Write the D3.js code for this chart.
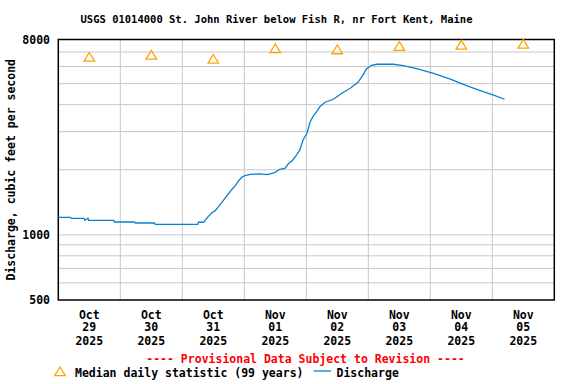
<!DOCTYPE html>
<html><head><meta charset="utf-8">
<script src="https://cdn.jsdelivr.net/npm/d3@7"></script>
<style>
body{margin:0;background:#fff;}
svg{display:block;}
text{font-family:"DejaVu Sans Mono",monospace;font-weight:bold;}
</style></head>
<body><svg id="c" width="576" height="384"></svg>
<script>
const title = "USGS 01014000 St. John River below Fish R, nr Fort Kent, Maine";
const yLabel = "Discharge, cubic feet per second";
const yTickLabels = [500, 1000, 8000];
const yGridValues = [600,700,800,900,1000,2000,3000,4000,5000,6000,7000];
const dayTicks = ["2025-10-29","2025-10-30","2025-10-31","2025-11-01","2025-11-02","2025-11-03","2025-11-04","2025-11-05"];
const medianValues = [6640, 6790, 6500, 7270, 7190, 7450, 7550, 7630];
const dischargeTimes = [
"2025-10-29T00:00","2025-10-29T04:45","2025-10-29T05:00","2025-10-29T10:00","2025-10-29T10:15","2025-10-29T11:30","2025-10-29T11:45",
"2025-10-29T21:30","2025-10-29T21:45","2025-10-30T05:30","2025-10-30T05:45","2025-10-30T13:15","2025-10-30T13:30",
"2025-10-31T06:00","2025-10-31T06:15","2025-10-31T08:15","2025-10-31T08:45","2025-10-31T10:00","2025-10-31T11:30",
"2025-10-31T12:45","2025-10-31T14:00","2025-10-31T15:15","2025-10-31T16:30","2025-10-31T17:45","2025-10-31T19:00",
"2025-10-31T20:30","2025-10-31T21:45","2025-10-31T23:00","2025-11-01T00:15","2025-11-01T02:15","2025-11-01T06:00",
"2025-11-01T08:45","2025-11-01T10:00","2025-11-01T11:45","2025-11-01T13:45","2025-11-01T15:45","2025-11-01T17:00",
"2025-11-01T18:45","2025-11-01T20:15","2025-11-01T21:30","2025-11-01T22:45","2025-11-02T00:15","2025-11-02T01:30",
"2025-11-02T02:45","2025-11-02T04:00","2025-11-02T05:15","2025-11-02T07:15","2025-11-02T10:30","2025-11-02T13:45",
"2025-11-02T17:00","2025-11-02T20:00","2025-11-02T22:00","2025-11-02T23:15","2025-11-03T01:15","2025-11-03T03:15",
"2025-11-03T09:45","2025-11-03T13:30","2025-11-03T18:45","2025-11-04T01:15","2025-11-04T07:30","2025-11-04T14:00",
"2025-11-04T20:30","2025-11-05T00:15","2025-11-05T04:45"];
const dischargeValues = [
1206,1206,1193,1193,1168,1193,1168,
1168,1147,1147,1135,1135,1119,
1119,1144,1144,1163,1214,1266,
1294,1350,1409,1476,1541,1613,
1688,1775,1846,1878,1906,1912,
1898,1912,1939,2010,2031,2127,
2219,2341,2469,2746,2949,3336,
3545,3711,3914,4102,4236,4515,
4761,5075,5487,5847,6081,6146,
6146,6056,5865,5585,5256,4895,
4592,4434,4236];

const parseDay = d3.timeParse("%Y-%m-%d");
const parseTime = d3.timeParse("%Y-%m-%dT%H:%M");
const svg = d3.select("#c");
const L = 58.3, R = 554.3, T = 39.5, B = 300;
const x = d3.scaleTime().domain([parseDay("2025-10-29"), parseDay("2025-11-06")]).range([L, R]);
const y = d3.scaleLog().domain([500, 8000]).range([B, T]);

// grid
const days = dayTicks.map(parseDay);
svg.append("g").selectAll("line").data(days.slice(1)).join("line")
  .attr("x1", d => x(d)).attr("x2", d => x(d)).attr("y1", T).attr("y2", B)
  .attr("stroke", "#c8c8c8").attr("stroke-width", 1);
svg.append("g").selectAll("line").data(yGridValues).join("line")
  .attr("x1", L).attr("x2", R).attr("y1", d => y(d)).attr("y2", d => y(d))
  .attr("stroke", "#c8c8c8").attr("stroke-width", 1);

// frame
svg.append("rect").attr("x", L).attr("y", T).attr("width", R - L).attr("height", B - T)
  .attr("fill", "none").attr("stroke", "#000").attr("stroke-width", 1.5);

// y tick labels
svg.append("g").selectAll("text").data(yTickLabels).join("text")
  .attr("x", 50).attr("y", d => y(d) + 4).attr("text-anchor", "end")
  .attr("font-size", "11.5px").attr("fill", "#000").text(d => d);

// y label
svg.append("text").attr("transform", `translate(15,${(T + B) / 2}) rotate(-90)`)
  .attr("text-anchor", "middle").attr("font-size", "11.5px").attr("fill", "#000").text(yLabel);

// x tick labels
const fmtM = d3.timeFormat("%b"), fmtD = d3.timeFormat("%d"), fmtY = d3.timeFormat("%Y");
const noon = d => d3.timeHour.offset(d, 12);
const xl = svg.append("g").selectAll("text").data(days).join("text")
  .attr("text-anchor", "middle").attr("font-size", "11.5px").attr("fill", "#000");
xl.append("tspan").attr("x", d => x(noon(d))).attr("y", 318.5).text(fmtM);
xl.append("tspan").attr("x", d => x(noon(d))).attr("y", 331).text(fmtD);
xl.append("tspan").attr("x", d => x(noon(d))).attr("y", 344.5).text(fmtY);

// title
svg.append("text").attr("x", 276.5).attr("y", 23).attr("text-anchor", "middle")
  .attr("font-size", "10.5px").attr("fill", "#000").text(title);

// discharge line
const pts = dischargeTimes.map((t, i) => [parseTime(t), dischargeValues[i]]);
svg.append("path").datum(pts)
  .attr("d", d3.line().x(d => x(d[0])).y(d => y(d[1])))
  .attr("fill", "none").attr("stroke", "#0a7fd0").attr("stroke-width", 1.3);

// medians
const tri = "M0,-4.5L5.3,4.2L-5.3,4.2Z";
svg.append("g").selectAll("path").data(medianValues).join("path")
  .attr("transform", (d, i) => `translate(${x(noon(days[i]))},${y(d)})`)
  .attr("d", tri).attr("fill", "none").attr("stroke", "#ffa500").attr("stroke-width", 1.3);

// provisional
svg.append("text").attr("x", 305.5).attr("y", 363).attr("text-anchor", "middle")
  .attr("font-size", "11.5px").attr("fill", "#ff0000").text("---- Provisional Data Subject to Revision ----");

// legend
svg.append("path").attr("transform", "translate(60,371.5)").attr("d", tri)
  .attr("fill", "none").attr("stroke", "#ffa500").attr("stroke-width", 1.3);
svg.append("text").attr("x", 75).attr("y", 376.5).attr("font-size", "11.5px").attr("fill", "#000")
  .text("Median daily statistic (99 years)");
svg.append("line").attr("x1", 313.5).attr("x2", 331).attr("y1", 371).attr("y2", 371)
  .attr("stroke", "#0a7fd0").attr("stroke-width", 1.3);
svg.append("text").attr("x", 336.5).attr("y", 376.5).attr("font-size", "11.5px").attr("fill", "#000")
  .text("Discharge");
</script></body></html>
